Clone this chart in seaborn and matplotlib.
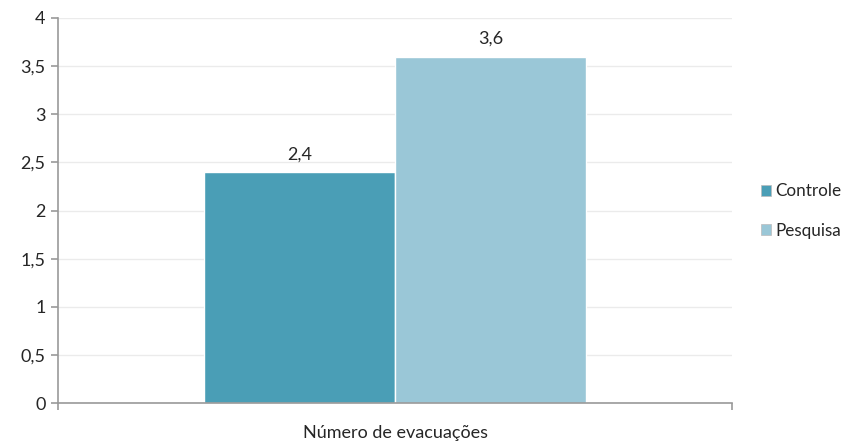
import matplotlib
matplotlib.use("Agg")
import matplotlib.pyplot as plt
import seaborn as sns
import pandas as pd
from matplotlib.patches import Patch

categories = ["Número de evacuações"]
groups = ["Controle", "Pesquisa"]
values = [2.4, 3.6]
value_labels = ["2,4", "3,6"]
yticks = [0, 0.5, 1, 1.5, 2, 2.5, 3, 3.5, 4]
ytick_labels = ["0", "0,5", "1", "1,5", "2", "2,5", "3", "3,5", "4"]
colors = ["#4A9EB6", "#9AC7D7"]

df = pd.DataFrame({"cat": categories * 2, "grupo": groups, "valor": values})

sns.set_theme(style="white")
plt.rcParams["font.family"] = ["Lato", "DejaVu Sans"]
FS = 13
TC = "#262626"

fig = plt.figure(figsize=(8.46, 4.45), dpi=100)
ax = fig.add_axes([58/846, 1 - 403/445, (732-58)/846, (403-18)/445])

sns.barplot(data=df, x="cat", y="valor", hue="grupo", palette=colors,
            width=0.567, ax=ax, legend=False, edgecolor="white", linewidth=1,
            saturation=1)

for cont, lab in zip(ax.containers, value_labels):
    ax.bar_label(cont, labels=[lab], padding=7, fontsize=FS, color=TC)

ax.set_ylim(0, 4)
ax.set_xlim(-0.5, 0.5)
ax.set_yticks(yticks)
ax.set_yticklabels(ytick_labels, fontsize=FS, color=TC)
ax.set_xticks([-0.5, 0.5])
ax.set_xticklabels(["", ""])
ax.set_xlabel("Número de evacuações", fontsize=FS, color=TC, labelpad=7)
ax.set_ylabel("")
ax.yaxis.grid(True, color="#EBEBEB", linewidth=1)
ax.set_axisbelow(True)
for s in ["top", "right"]:
    ax.spines[s].set_visible(False)
for s in ["left", "bottom"]:
    ax.spines[s].set_color("#999999")
    ax.spines[s].set_linewidth(1.2)
ax.tick_params(axis="both", which="major", length=5, width=1.2, color="#999999",
               direction="out", left=True, bottom=True, pad=4)

handles = [Patch(facecolor=c, edgecolor="#bbbbbb", linewidth=0.5) for c in colors]
fig.legend(handles, groups, loc="center left", bbox_to_anchor=(756/846, 1 - 211/445),
           frameon=False, fontsize=12.3, handlelength=0.6, handleheight=0.6,
           handletextpad=0.25, labelspacing=1.35, borderaxespad=0, borderpad=0.3)

fig.savefig("out.png", dpi=100)
